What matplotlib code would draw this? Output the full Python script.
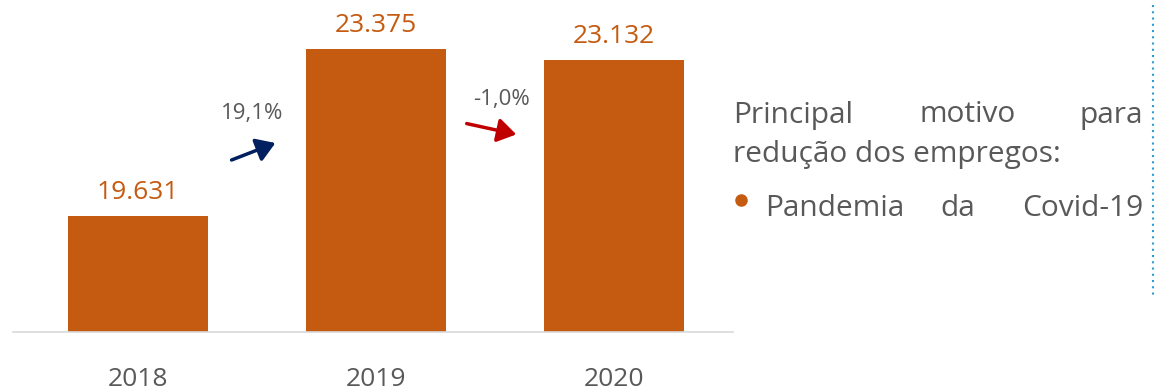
import matplotlib
matplotlib.use("Agg")
import matplotlib.pyplot as plt

plt.rcParams['font.family'] = ['Open Sans', 'DejaVu Sans']

years = ["2018", "2019", "2020"]
empregos = [19.631, 23.375, 23.132]
value_labels = ["19.631", "23.375", "23.132"]
variacoes = ["19,1%", "-1,0%"]

bar_color = "#C55A11"
text_gray = "#595959"

W, H = 1157, 390
fig = plt.figure(figsize=(W / 100, H / 100), dpi=100)

# chart area in pixel coords
ax_left, ax_right, ax_bottom, ax_top = 13, 733, 332, 0
ax = fig.add_axes([ax_left / W, (H - ax_bottom) / H,
                   (ax_right - ax_left) / W, (ax_bottom - ax_top) / H])

x = list(range(len(years)))
ax.bar(x, empregos, width=0.588, color=bar_color, zorder=2)
ax.set_xlim(-0.525, 2.5)
ax.set_ylim(17.03, 17.03 + 332 / 44.6)

for xi, v, lab in zip(x, empregos, value_labels):
    ax.annotate(lab, (xi, v), xytext=(0, 8), textcoords="offset points",
                ha="center", va="bottom", fontsize=19, color=bar_color)

for s in ["top", "right", "left"]:
    ax.spines[s].set_visible(False)
ax.spines["bottom"].set_color("#D9D9D9")
ax.spines["bottom"].set_linewidth(1.2)
ax.set_yticks([])
ax.set_xticks(x)
ax.set_xticklabels(years, fontsize=19, color=text_gray)
ax.tick_params(axis="x", length=0, pad=25)

# growth annotations between bars
def px(xp, yp):
    return (xp / W, 1 - yp / H)

fig.text(*px(252, 113), variacoes[0], ha="center", va="center",
         fontsize=16, color=text_gray)
fig.text(*px(502, 100), variacoes[1], ha="center", va="center",
         fontsize=16, color=text_gray)

fig.add_artist(matplotlib.patches.FancyArrowPatch(
    px(229, 161), px(278, 142), transform=fig.transFigure,
    arrowstyle="-|>,head_length=7,head_width=4.5", color="#002060",
    linewidth=2.5, mutation_scale=1.6))
fig.add_artist(matplotlib.patches.FancyArrowPatch(
    px(464, 123), px(519, 135), transform=fig.transFigure,
    arrowstyle="-|>,head_length=7,head_width=4.5", color="#C00000",
    linewidth=2.5, mutation_scale=1.6))

# side note (justified lines)
fs = 21.5
fig.text(*px(733, 115), "Principal", ha="left", va="center", fontsize=fs, color=text_gray)
fig.text(*px(919, 115), "motivo", ha="left", va="center", fontsize=fs, color=text_gray)
fig.text(*px(1143, 115), "para", ha="right", va="center", fontsize=fs, color=text_gray)
fig.text(*px(733, 155), "redução dos empregos:", ha="left", va="center",
         fontsize=fs, color=text_gray)
fig.add_artist(matplotlib.lines.Line2D([741 / W], [1 - 200 / H], transform=fig.transFigure,
                                       marker="o", markersize=8, color=bar_color,
                                       linestyle="none"))
fig.text(*px(765, 208), "Pandemia", ha="left", va="center", fontsize=fs, color=text_gray)
fig.text(*px(940, 208), "da", ha="left", va="center", fontsize=fs, color=text_gray)
fig.text(*px(1143, 208), "Covid-19", ha="right", va="center", fontsize=fs, color=text_gray)

# dotted edge marker at the right border
fig.add_artist(matplotlib.lines.Line2D([1153 / W, 1153 / W], [1 - 5 / H, 1 - 295 / H],
                                       transform=fig.transFigure, color="#2E9BD6",
                                       linestyle=(0, (1, 2)), linewidth=1.5))

fig.savefig("out.png", dpi=100)
